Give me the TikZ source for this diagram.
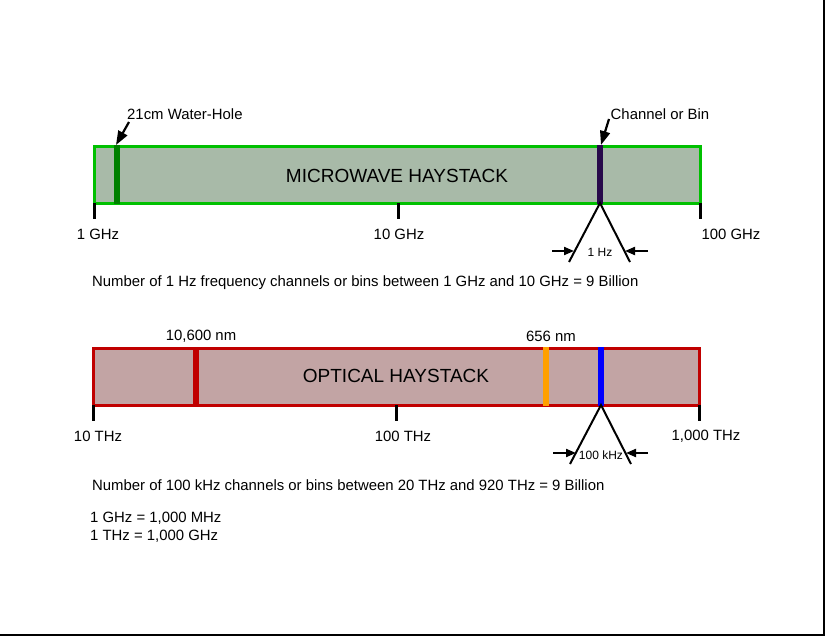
\documentclass[tikz,border=0pt]{standalone}
\usepackage{fontspec}
\setmainfont{Liberation Sans}
\usetikzlibrary{arrows.meta}
\definecolor{mwfill}{RGB}{168,186,168}
\definecolor{mwgreen}{RGB}{0,192,0}
\definecolor{whgreen}{RGB}{0,128,0}
\definecolor{binpurple}{RGB}{40,10,75}
\definecolor{opfill}{RGB}{194,164,164}
\definecolor{opred}{RGB}{192,0,0}
\definecolor{oporange}{RGB}{255,160,0}
\definecolor{opblue}{RGB}{0,0,255}
\begin{document}
\begin{tikzpicture}[x=1pt,y=-1pt,
  lbl/.style={font=\fontsize{14.9}{17}\selectfont, inner sep=0pt},
  small/.style={font=\fontsize{12}{14}\selectfont, inner sep=0pt},
  bigtxt/.style={font=\fontsize{19}{22}\selectfont},
  bar/.style={line width=3pt, minimum width=606pt, minimum height=57pt, outer sep=0pt, inner sep=0pt},
  tickline/.style={line width=3pt},
  fanline/.style={line width=2pt},
  dimarrow/.style={line width=2pt, -{Triangle[length=10pt,width=8pt]}},
  ptr/.style={line width=2.2pt, -{Triangle[length=14pt,width=10pt]}}]
\useasboundingbox (0,0) rectangle (825,637);
\draw[line width=2.5pt] (823.8,0) -- (823.8,635.2) -- (0,635.2);

% ---------------- microwave ----------------
\node[bar, draw=mwgreen, fill=mwfill] (mw) at (397,174.5) {};
\fill[whgreen] (114,145) rectangle (120,204);
\fill[binpurple] (597,145) rectangle (603,204);
\node[bigtxt] (mwtxt) at (397,176) {MICROWAVE HAYSTACK};

\coordinate (t1) at (94,203);
\coordinate (t2) at (398,203);
\coordinate (t3) at (700,203);
\draw[tickline] (t1) -- ++(0,16);
\draw[tickline] (t2) -- ++(0,16);
\draw[tickline] (t3) -- ++(0,16);
\node[lbl] (l1) at (98,234) {1 GHz};
\node[lbl] (l2) at (399,234) {10 GHz};
\node[lbl] (l3) at (731,234) {100 GHz};

\node[lbl, anchor=west] (whl) at (127,114) {21cm Water-Hole};
\coordinate (whs) at (129,122);
\coordinate (whe) at (116,145);
\draw[ptr] (whs) -- (whe);

\node[lbl] (cbl) at (660,114) {Channel or Bin};
\coordinate (cbs) at (609,119);
\coordinate (cbe) at (601,145);
\draw[ptr] (cbs) -- (cbe);

\coordinate (f1) at (600,203);
\coordinate (f1l) at (569,262);
\coordinate (f1r) at (630,262);
\draw[fanline] (f1l) -- (f1) -- (f1r);
\coordinate (a1s) at (552,251);
\coordinate (a1e) at (574,251);
\coordinate (a2s) at (648,251);
\coordinate (a2e) at (625,251);
\draw[dimarrow] (a1s) -- (a1e);
\draw[dimarrow] (a2s) -- (a2e);
\node[small] (hz) at (600,252) {1 Hz};

\node[lbl, anchor=west] (n1) at (92,283) {Number of 1 Hz frequency channels or bins between 1 GHz and 10 GHz = 9 Billion};

% ---------------- optical ----------------
\node[bar, draw=opred, fill=opfill] (op) at (396,376.5) {};
\fill[opred] (193,347) rectangle (199,406);
\fill[oporange] (543,347) rectangle (549,406);
\fill[opblue] (598,347) rectangle (604,406);
\node[bigtxt] (optxt) at (396,376) {OPTICAL HAYSTACK};

\node[lbl] (nm1) at (201,336) {10,600 nm};
\node[lbl] (nm2) at (551,336) {656 nm};

\coordinate (u1) at (93,405);
\coordinate (u2) at (396,405);
\coordinate (u3) at (699,405);
\draw[tickline] (u1) -- ++(0,16);
\draw[tickline] (u2) -- ++(0,16);
\draw[tickline] (u3) -- ++(0,16);
\node[lbl] (m1) at (98,436) {10 THz};
\node[lbl] (m2) at (403,436) {100 THz};
\node[lbl] (m3) at (706,436) {1,000 THz};

\coordinate (f2) at (601,405);
\coordinate (f2l) at (570,464);
\coordinate (f2r) at (631,464);
\draw[fanline] (f2l) -- (f2) -- (f2r);
\coordinate (b1s) at (553,453);
\coordinate (b1e) at (576,453);
\coordinate (b2s) at (648,453);
\coordinate (b2e) at (626,453);
\draw[dimarrow] (b1s) -- (b1e);
\draw[dimarrow] (b2s) -- (b2e);
\node[small] (khz) at (601,455) {100 kHz};

\node[lbl, anchor=west] (n2) at (92,485) {Number of 100 kHz channels or bins between 20 THz and 920 THz = 9 Billion};
\node[lbl, anchor=west] (e1) at (90,518) {1 GHz = 1,000 MHz};
\node[lbl, anchor=west] (e2) at (90,536) {1 THz = 1,000 GHz};
\end{tikzpicture}
\end{document}
